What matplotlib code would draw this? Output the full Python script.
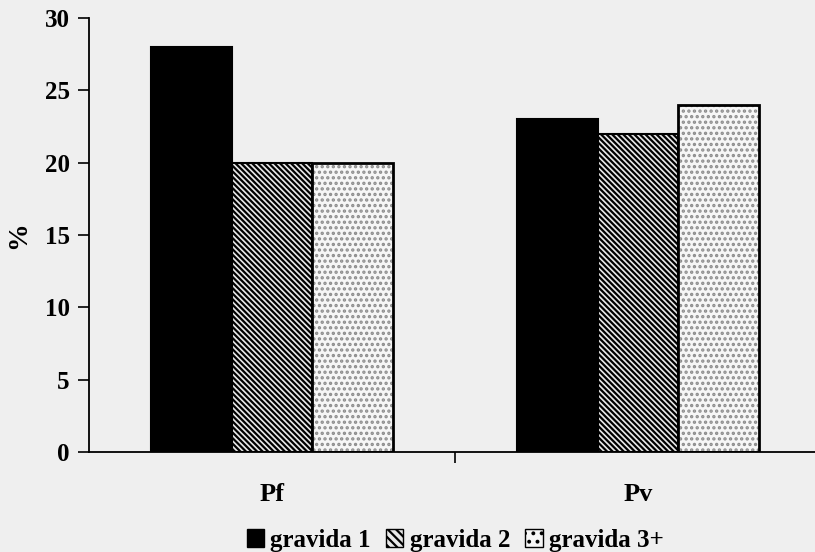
import matplotlib.pyplot as plt
from matplotlib.patches import Patch
import numpy as np

plt.rcParams['font.family'] = ['Liberation Serif', 'DejaVu Serif']
plt.rcParams['font.weight'] = 'bold'
plt.rcParams['hatch.linewidth'] = 1.6

categories = ['Pf', 'Pv']
series = ['gravida 1', 'gravida 2', 'gravida 3+']
g1 = [28, 23]
g2 = [20, 22]
g3 = [20, 24]
yticks = [0, 5, 10, 15, 20, 25, 30]

bg = '#efefef'
fig = plt.figure(figsize=(8.15, 5.52), dpi=100, facecolor=bg)
ax = fig.add_axes([89 / 815, (552 - 452) / 552, 732 / 815, 434 / 552])
ax.set_facecolor(bg)

x = np.arange(len(categories))
w = 0.221
ax.bar(x - w, g1, w, color='black', edgecolor='black', linewidth=1.5)
ax.bar(x, g2, w, color='#e8e8e8', edgecolor='black', hatch='\\' * 6, linewidth=1.5)
# dotted bars: grey dots, then black outline on top
ax.bar(x + w, g3, w, color='#f6f6f6', edgecolor='#8c8c8c', hatch='...', linewidth=0)
ax.bar(x + w, g3, w, fill=False, edgecolor='black', linewidth=2)

ax.set_xlim(-0.5, 1.5)
ax.set_ylim(0, 30)
ax.set_yticks(yticks)
ax.set_xticks(x)
ax.set_xticklabels(categories)
ax.set_xticks([0.5], minor=True)
ax.tick_params(axis='x', which='major', length=0, pad=22, labelsize=19)
ax.tick_params(axis='x', which='minor', length=8, width=1.2, direction='out')
ax.tick_params(axis='y', length=8, width=1.2, direction='out', labelsize=18, pad=6)
for side in ['top', 'right']:
    ax.spines[side].set_visible(False)
for side in ['left', 'bottom']:
    ax.spines[side].set_linewidth(1.3)

ax.set_ylabel('%', fontsize=20, fontweight='bold', labelpad=10)

handles = [
    Patch(facecolor='black', edgecolor='black'),
    Patch(facecolor='#e8e8e8', edgecolor='black', hatch='\\' * 4),
    Patch(facecolor='#f6f6f6', edgecolor='black', hatch='..'),
]
fig.legend(handles, series, loc='center', bbox_to_anchor=(455 / 815, 1 - 540 / 552),
           ncol=3, frameon=False, fontsize=18, handlelength=0.7, handleheight=0.7,
           handletextpad=0.25, columnspacing=0.6)

fig.savefig('out.png', dpi=100, facecolor=bg)
